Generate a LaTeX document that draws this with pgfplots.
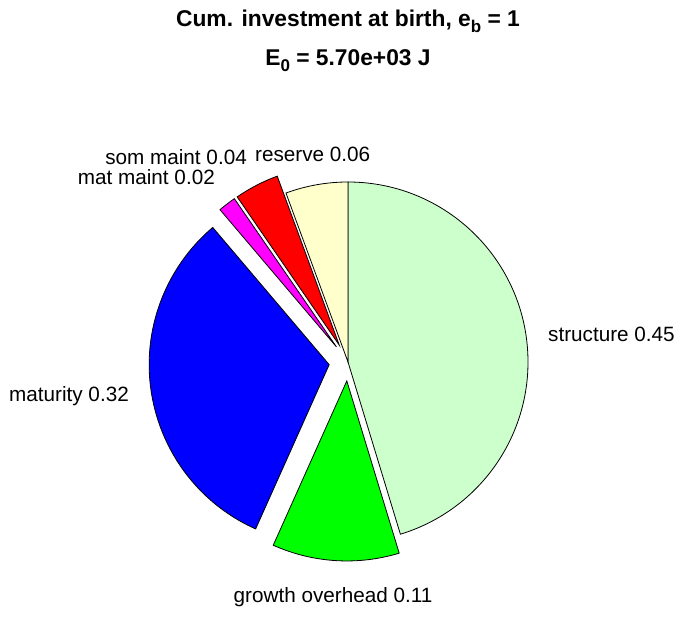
\documentclass[border=0pt]{standalone}
\usepackage{pgfplots}
\usepackage{pgfplotstable}
\pgfplotsset{compat=1.18}
\usepackage{fontspec}
\setmainfont{Liberation Sans}
\definecolor{c0}{rgb}{0.8,1,0.8}
\definecolor{c1}{rgb}{0,1,0}
\definecolor{c2}{rgb}{0,0,1}
\definecolor{c3}{rgb}{1,0,1}
\definecolor{c4}{rgb}{1,0,0}
\definecolor{c5}{rgb}{1,1,0.8}
\pgfplotstableread{
value explode
0.453 0
0.114 1
0.321 1
0.016 1
0.040 1
0.056 0
}\piedata
\newcommand{\lab}{\fontsize{20.7bp}{24bp}\selectfont}
\newcommand{\ttl}{\fontsize{22.8bp}{26bp}\selectfont\bfseries}
\begin{document}
\begin{tikzpicture}
\begin{axis}[
  width=696bp, height=618bp, scale only axis,
  xmin=0, xmax=696, ymin=0, ymax=618,
  hide axis, clip=false,
]
\path (rel axis cs:0,0) rectangle (rel axis cs:1,1);
\def\angacc{90}
\pgfplotsforeachungrouped \i in {0,...,5} {
  \pgfplotstablegetelem{\i}{value}\of\piedata \let\v=\pgfplotsretval
  \pgfplotstablegetelem{\i}{explode}\of\piedata \let\ex=\pgfplotsretval
  \pgfmathsetmacro\aend{\angacc - 360*\v}
  \pgfmathsetmacro\amid{(\angacc+\aend)/2}
  \pgfmathsetmacro\cx{348 + \ex*19*cos(\amid)}
  \pgfmathsetmacro\cy{256 + \ex*19*sin(\amid)}
  \edef\temp{\noexpand\filldraw[fill=c\i, draw=black, line width=0.8bp, line join=miter]
    (axis cs:\cx,\cy) -- ++(\angacc:180bp) arc[start angle=\angacc, end angle=\aend, radius=180bp] -- cycle;}
  \temp
  \global\let\angacc=\aend
}
\node[anchor=base west, inner sep=0] at (axis cs:548,276) {\lab structure 0.45};
\node[anchor=base, inner sep=0] at (axis cs:333,16) {\lab growth overhead 0.11};
\node[anchor=base east, inner sep=0] at (axis cs:129,216) {\lab maturity 0.32};
\node[anchor=base east, inner sep=0] at (axis cs:215,433) {\lab mat maint 0.02};
\node[anchor=base east, inner sep=0] at (axis cs:247,453) {\lab som maint 0.04};
\node[anchor=base west, inner sep=0] at (axis cs:255,456) {\lab reserve 0.06};
\node[anchor=base, inner sep=0] at (axis cs:348,591) {\ttl Cum. investment at birth, e\raisebox{-0.45ex}{\fontsize{17bp}{17bp}\selectfont b} = 1};
\node[anchor=base, inner sep=0] at (axis cs:348,552) {\ttl E\raisebox{-0.45ex}{\fontsize{17bp}{17bp}\selectfont 0} = 5.70e+03 J};
\end{axis}
\end{tikzpicture}
\end{document}
